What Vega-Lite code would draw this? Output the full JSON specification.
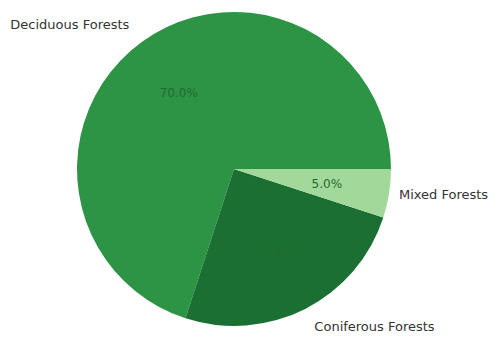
{
  "$schema": "https://vega.github.io/schema/vega-lite/v6.json",
  "width": 468,
  "height": 338,
  "autosize": "none",
  "padding": {"left": 0, "top": 0, "right": 27, "bottom": 1},
  "background": "white",
  "config": {"view": {"stroke": null}, "text": {"font": "DejaVu Sans"}},
  "data": {"values": [
    {"category": "Deciduous Forests", "value": 70},
    {"category": "Coniferous Forests", "value": 25},
    {"category": "Mixed Forests", "value": 5}
  ]},
  "transform": [
    {"stack": "value", "groupby": [], "sort": [{"field": "value", "order": "ascending"}], "as": ["v0", "v1"]},
    {"calculate": "(datum.v0 + datum.v1) / 2", "as": "mid"},
    {"calculate": "datum.value / 100", "as": "frac"}
  ],
  "layer": [
    {
      "mark": {"type": "arc", "radius": 157},
      "encoding": {
        "theta": {"field": "v0", "type": "quantitative", "scale": {"domain": [0, 100], "range": [1.5707963, 7.8539816]}},
        "theta2": {"field": "v1"},
        "color": {"field": "category", "type": "nominal", "legend": null,
          "scale": {"domain": ["Deciduous Forests", "Coniferous Forests", "Mixed Forests"], "range": ["#2e9445", "#1c6f33", "#a3d89b"]}}
      }
    },
    {
      "mark": {"type": "text", "radius": 94, "fontSize": 12, "color": "#1f6b2e", "align": "center", "baseline": "middle"},
      "encoding": {
        "theta": {"field": "mid", "type": "quantitative"},
        "text": {"field": "frac", "type": "quantitative", "format": ".1%"}
      }
    },
    {
      "transform": [{"filter": "datum.category === 'Deciduous Forests'"}],
      "mark": {"type": "text", "radius": 178, "fontSize": 13, "color": "#333333", "align": "right", "baseline": "middle"},
      "encoding": {
        "theta": {"field": "mid", "type": "quantitative"},
        "text": {"field": "category", "type": "nominal"}
      }
    },
    {
      "transform": [{"filter": "datum.category === 'Coniferous Forests'"}],
      "mark": {"type": "text", "radius": 177, "fontSize": 13, "color": "#333333", "align": "left", "baseline": "middle"},
      "encoding": {
        "theta": {"field": "mid", "type": "quantitative"},
        "text": {"field": "category", "type": "nominal"}
      }
    },
    {
      "transform": [{"filter": "datum.category === 'Mixed Forests'"}],
      "mark": {"type": "text", "radius": 167, "fontSize": 13, "color": "#333333", "align": "left", "baseline": "middle"},
      "encoding": {
        "theta": {"field": "mid", "type": "quantitative"},
        "text": {"field": "category", "type": "nominal"}
      }
    }
  ]
}
